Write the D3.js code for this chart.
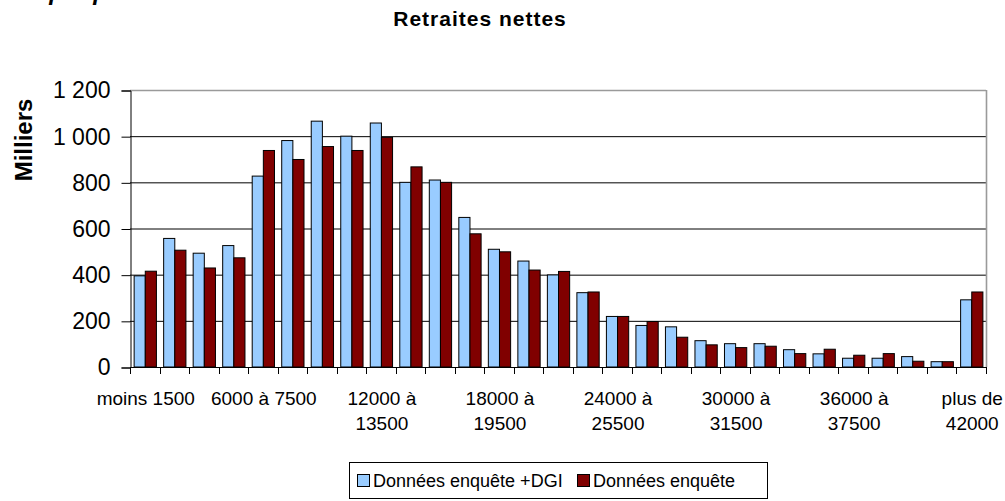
<!DOCTYPE html>
<html>
<head>
<meta charset="utf-8">
<script src="https://cdn.jsdelivr.net/npm/d3@7"></script>
<style>
  body { margin: 0; background: #fff; }
  svg { display: block; }
  text { font-family: "Liberation Sans", Arial, sans-serif; fill: #000; }
</style>
</head>
<body>
<div id="chart"></div>
<script>
// Tranches of net pension (one label per band)
const categories = [
  'moins 1500', '1500 à 3000', '3000 à 4500', '4500 à 6000', '6000 à 7500',
  '7500 à 9000', '9000 à 10500', '10500 à 12000', '12000 à 13500', '13500 à 15000',
  '15000 à 16500', '16500 à 18000', '18000 à 19500', '19500 à 21000', '21000 à 22500',
  '22500 à 24000', '24000 à 25500', '25500 à 27000', '27000 à 28500', '28500 à 30000',
  '30000 à 31500', '31500 à 33000', '33000 à 34500', '34500 à 36000', '36000 à 37500',
  '37500 à 39000', '39000 à 40500', '40500 à 42000', 'plus de 42000'
]

// values in thousands
const enqueteDGI = [
  395, 557, 493, 526, 827, 981, 1065, 1000, 1057, 800,
  810, 648, 510, 459, 399, 322, 219, 180, 174, 114,
  101, 101, 75, 57, 38, 38, 45, 23, 291
]
const enquete = [
  415, 506, 429, 473, 938, 899, 955, 938, 995, 867,
  800, 577, 499, 420, 414, 325, 219, 197, 129, 96,
  84, 90, 58, 77, 51, 58, 25, 23, 325
]

const seriesNames = ['Données enquête +DGI', 'Données enquête']
const yTicks = [0, 200, 400, 600, 800, 1000, 1200]

const WIDTH = 1005
const HEIGHT = 501
const PLOT = { left: 130, right: 986, top: 90, bottom: 367 }
const COLORS = ['#99CCFF', '#800000']

const svg = d3.select('#chart')
  .append('svg')
  .attr('width', WIDTH)
  .attr('height', HEIGHT)

// Heading cut off at the very top, as in the scan (only its bottom shows)
svg.append('text')
  .attr('x', 8).attr('y', 0)
  .style('font-size', '24px')
  .style('font-weight', 'bold')
  .style('font-style', 'italic')
  .text('Graphique')

// Title
svg.append('text')
  .attr('x', 480).attr('y', 26)
  .attr('text-anchor', 'middle')
  .style('font-size', '21px')
  .style('font-weight', 'bold')
  .style('letter-spacing', '1px')
  .text('Retraites nettes')

const x = d3.scaleBand()
  .domain(categories)
  .range([PLOT.left, PLOT.right])
  .padding(0)

const xSub = d3.scaleBand()
  .domain([0, 1])
  .range([x.bandwidth() * 0.14, x.bandwidth() * 0.895])

const y = d3.scaleLinear()
  .domain([0, 1200])
  .range([PLOT.bottom, PLOT.top])

const fmt = d3.formatLocale({ decimal: ',', thousands: '\u00a0', grouping: [3] }).format(',')

// Gridlines
svg.append('g')
  .selectAll('line')
  .data(yTicks.filter(d => d > 0))
  .enter()
  .append('line')
  .attr('x1', PLOT.left).attr('x2', PLOT.right)
  .attr('y1', d => y(d) + 0.5).attr('y2', d => y(d) + 0.5)
  .attr('stroke', d => d === 1200 ? '#9a9a9a' : '#000')
  .attr('stroke-width', d => d === 1200 ? 1.6 : 1)

// Right border of the plot area
svg.append('line')
  .attr('x1', PLOT.right + 0.5).attr('x2', PLOT.right + 0.5)
  .attr('y1', y(1200)).attr('y2', y(0))
  .attr('stroke', '#9a9a9a')
  .attr('stroke-width', 1.6)

// Bars
const series = [enqueteDGI, enquete]
series.forEach((vals, s) => {
  svg.append('g')
    .selectAll('rect')
    .data(vals)
    .enter()
    .append('rect')
    .attr('x', (d, i) => x(categories[i]) + xSub(s))
    .attr('y', d => y(d))
    .attr('width', xSub.bandwidth())
    .attr('height', d => y(0) - y(d))
    .attr('fill', COLORS[s])
    .attr('stroke', '#000')
    .attr('stroke-width', 1)
})

// Y axis
svg.append('g')
  .attr('transform', `translate(${PLOT.left + 0.5},0.5)`)
  .call(
    d3.axisLeft(y)
      .tickValues(yTicks)
      .tickSize(9)
      .tickPadding(11)
      .tickFormat(fmt)
  )
  .call(sel => sel.select('.domain').attr('stroke', '#000'))
  .call(sel =>
    sel.selectAll('.tick text')
      .style('font-size', '23px')
      .style('font-family', '"Liberation Sans", Arial, sans-serif')
      .attr('fill', '#000')
  )

// X axis: ticks at category boundaries
const bounds = categories.map(c => x(c)).concat([PLOT.right])
const xAxis = svg.append('g')
xAxis.append('line')
  .attr('x1', PLOT.left).attr('x2', PLOT.right)
  .attr('y1', y(0) + 0.5).attr('y2', y(0) + 0.5)
  .attr('stroke', '#000')
xAxis.selectAll('.xtick')
  .data(bounds)
  .enter()
  .append('line')
  .attr('class', 'xtick')
  .attr('x1', d => Math.round(d) + 0.5).attr('x2', d => Math.round(d) + 0.5)
  .attr('y1', y(0)).attr('y2', y(0) + 7)
  .attr('stroke', '#000')

// Category labels, every fourth band, wrapped like the original
const shown = categories.filter((d, i) => i % 4 === 0)
const wrap = s => {
  if (s.length <= 11) return [s]
  const k = s.lastIndexOf(' ')
  return [s.slice(0, k), s.slice(k + 1)]
}
xAxis.selectAll('.xlabel')
  .data(shown)
  .enter()
  .append('text')
  .attr('class', 'xlabel')
  .attr('text-anchor', 'middle')
  .attr('x', d => x(d) + x.bandwidth() / 2 + 1)
  .attr('y', 405)
  .style('font-size', '19px')
  .selectAll('tspan')
  .data(d => wrap(d))
  .enter()
  .append('tspan')
  .attr('x', function () { return d3.select(this.parentNode).attr('x') })
  .attr('dy', (d, i) => i === 0 ? 0 : 25)
  .text(d => d)

// Y axis title
svg.append('text')
  .attr('transform', 'translate(32,140) rotate(-90)')
  .attr('text-anchor', 'middle')
  .style('font-size', '24px')
  .style('font-weight', 'bold')
  .text('Milliers')

// Legend
const legend = svg.append('g')
legend.append('rect')
  .attr('x', 349.5).attr('y', 462.5)
  .attr('width', 418).attr('height', 36)
  .attr('fill', '#fff')
  .attr('stroke', '#000')

const legendX = [357, 577]
seriesNames.forEach((name, s) => {
  legend.append('rect')
    .attr('x', legendX[s] + 0.5).attr('y', 474.5)
    .attr('width', 12).attr('height', 12)
    .attr('fill', COLORS[s])
    .attr('stroke', '#000')
  legend.append('text')
    .attr('x', legendX[s] + 16).attr('y', 487)
    .style('font-size', '18px')
    .text(name)
})
</script>
</body>
</html>
